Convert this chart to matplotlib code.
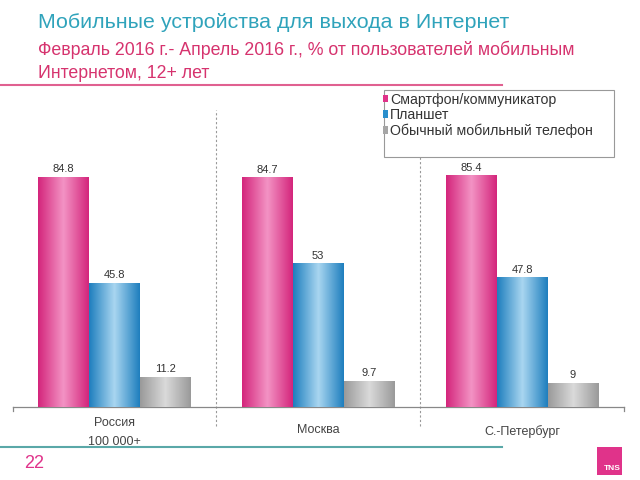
import numpy as np
import matplotlib.pyplot as plt
from matplotlib.colors import LinearSegmentedColormap
from matplotlib.patches import Rectangle

plt.rcParams['font.family'] = ['Liberation Sans', 'DejaVu Sans']

# data
regions = ['Россия\n100 000+', 'Москва', 'С.-Петербург']
series = ['Смартфон/коммуникатор', 'Планшет', 'Обычный мобильный телефон']
smartphone = [84.8, 84.7, 85.4]
tablet = [45.8, 53, 47.8]
phone = [11.2, 9.7, 9]
value_labels = [['84.8', '84.7', '85.4'], ['45.8', '53', '47.8'], ['11.2', '9.7', '9']]

colors = ['#e0338a', '#2a8fcc', '#a6a6a6']
dark = ['#d4267c', '#1f7fbe', '#9a9a9a']
light = ['#f393c4', '#a9d6f0', '#dadada']

fig = plt.figure(figsize=(6.4, 4.8), dpi=100)
W, H = 640, 480
ax = fig.add_axes([12.5 / W, 1 - 407 / H, (624 - 12.5) / W, (407 - 110) / H])

x = np.arange(len(regions))
width = 0.25
ax.set_xlim(-0.5, 2.5)
ax.set_ylim(0, 109.5)

for i, vals in enumerate([smartphone, tablet, phone]):
    bars = ax.bar(x + (i - 1) * width, vals, width, color=colors[i], zorder=2,
                  label=series[i])
    cmap = LinearSegmentedColormap.from_list('g%d' % i, [dark[i], light[i], dark[i]])
    grad = np.linspace(0, 1, 100).reshape(1, -1)
    for b, lab in zip(bars, value_labels[i]):
        x0, y0 = b.get_x(), b.get_y()
        im = ax.imshow(grad, cmap=cmap, aspect='auto', zorder=3,
                       extent=[x0, x0 + b.get_width(), y0, y0 + b.get_height()])
        im.set_clip_path(b)
        ax.text(b.get_x() + b.get_width() / 2, b.get_height() + 1.0, lab,
                ha='center', va='bottom', fontsize=8, color='#333333')

# dividers between regions
for xd in [0.5, 1.5]:
    ax.plot([xd, xd], [-7, 109.5], ls=(0, (2, 2)), color='#999999', lw=0.8,
            clip_on=False, zorder=1)

for s in ['top', 'right', 'left']:
    ax.spines[s].set_visible(False)
ax.spines['bottom'].set_color('#888888')
ax.spines['bottom'].set_linewidth(0.9)
ax.set_yticks([])
ax.set_xticks([])
ax.plot([-0.5, -0.5], [0, -1.5], color='#888888', lw=0.9, clip_on=False)
ax.plot([2.5, 2.5], [0, -1.5], color='#888888', lw=0.9, clip_on=False)

label_y = [-9.3, -8.5, -9.2]
for xi, name, ly in zip(x, regions, label_y):
    ax.text(xi, ly, name, ha='center', va='center', fontsize=9, color='#444444',
            linespacing=1.75)

# legend box
fig.add_artist(Rectangle((384 / W, 1 - 157 / H), (614 - 384) / W, (157 - 90) / H,
                         transform=fig.transFigure, facecolor='white',
                         edgecolor='#999999', lw=0.8, zorder=5))
leg = fig.legend(loc='upper left', bbox_to_anchor=(379 / W, 1 - 89 / H),
                 fontsize=10.2, frameon=False, handlelength=0.4,
                 handleheight=0.45, handletextpad=0.15, borderpad=0.25,
                 labelspacing=0.1, borderaxespad=0)
leg.set_zorder(6)
for t in leg.get_texts():
    t.set_color('#333333')

fig.text(38 / W, 1 - 22 / H, 'Мобильные устройства для выхода в Интернет',
         fontsize=15.4, color='#2fa3bb', va='center')
fig.text(38 / W, 1 - 50 / H, 'Февраль 2016 г.- Апрель 2016 г., % от пользователей мобильным',
         fontsize=12.8, color='#d6336e', va='center')
fig.text(38 / W, 1 - 73 / H, 'Интернетом, 12+ лет',
         fontsize=12.8, color='#d6336e', va='center')

fig.add_artist(plt.Line2D([0, 502 / W], [1 - 85 / H, 1 - 85 / H], color='#e06090', lw=1.5))
fig.add_artist(plt.Line2D([0, 502 / W], [1 - 447 / H, 1 - 447 / H], color='#5aa8a8', lw=1.5))
fig.text(24 / W, 1 - 463 / H, '22', fontsize=13, color='#e0338a', va='center')

logo = fig.add_axes([597 / W, 1 - 475 / H, 25 / W, 28 / H])
logo.set_facecolor('#e0338a')
logo.set_xticks([])
logo.set_yticks([])
for s in logo.spines.values():
    s.set_visible(False)
logo.text(0.62, 0.22, 'TNS', color='white', fontsize=6, fontweight='bold',
          ha='center', va='center', transform=logo.transAxes)

fig.savefig('out.png', dpi=100)
